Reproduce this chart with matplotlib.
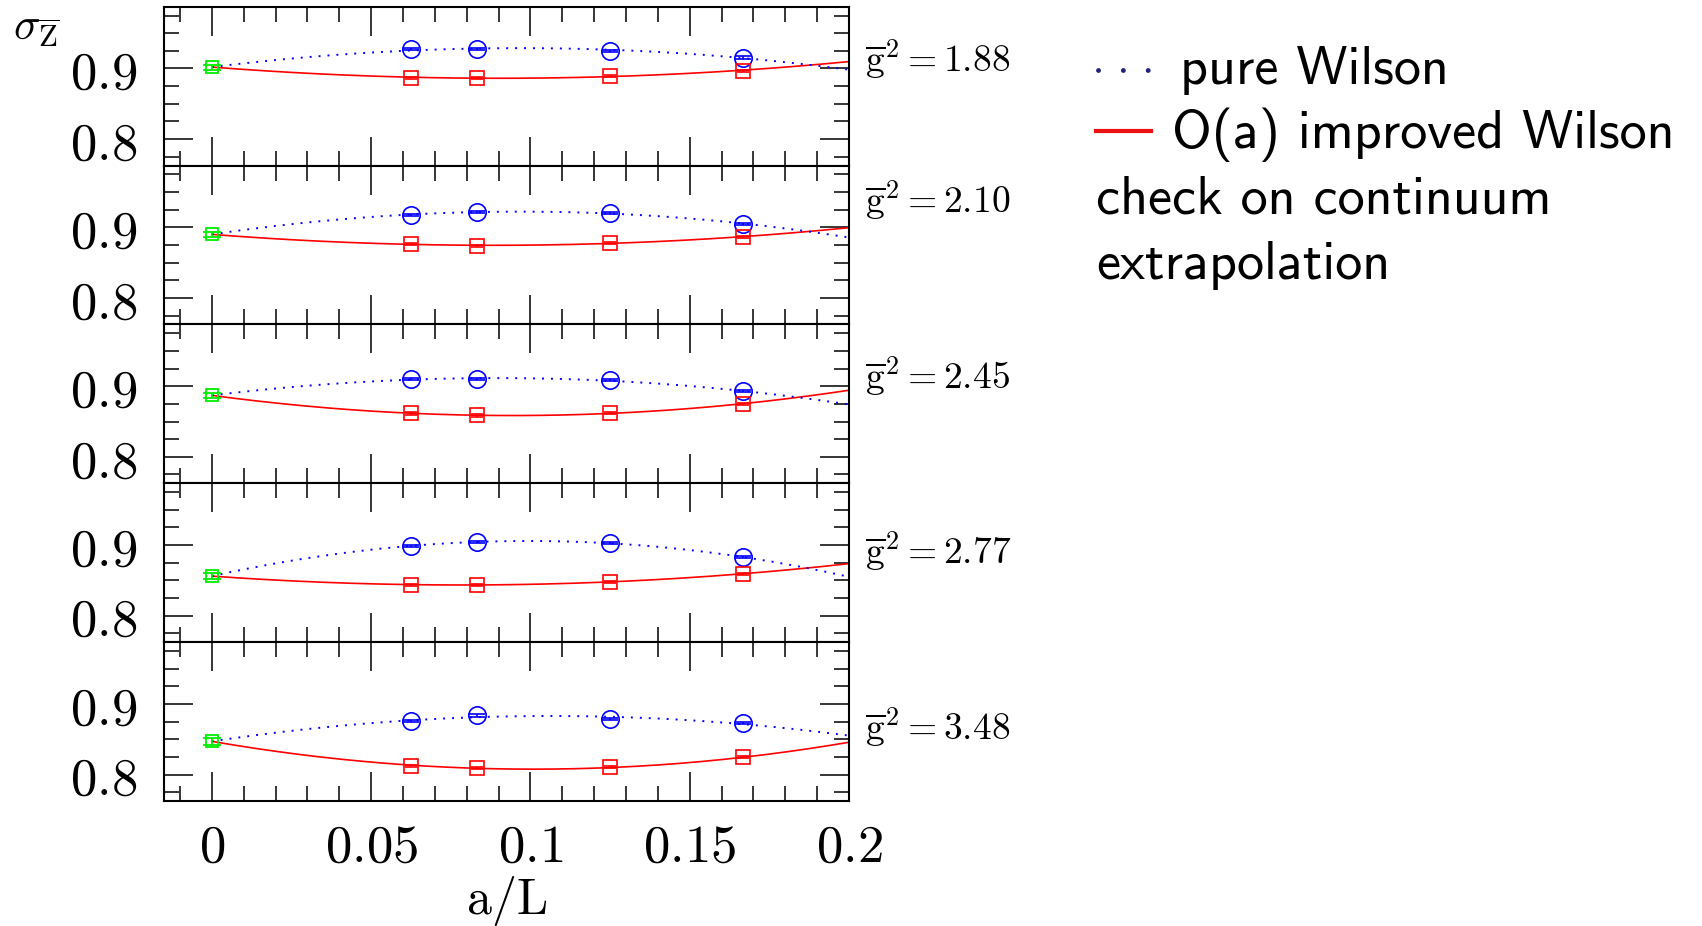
import numpy as np
import matplotlib.pyplot as plt
from matplotlib.lines import Line2D
from matplotlib.ticker import MultipleLocator, FixedLocator

plt.rcParams['mathtext.fontset'] = 'cm'

# lattice spacings a/L = 1/16, 1/12, 1/8, 1/6
a_over_L = np.array([1 / 16, 1 / 12, 1 / 8, 1 / 6])
g2_labels = ['1.88', '2.10', '2.45', '2.77', '3.48']

# continuum values (green) at a/L = 0
continuum = [0.902, 0.890, 0.887, 0.856, 0.847]
continuum_err = [0.0035, 0.0035, 0.0035, 0.004, 0.0045]

# pure Wilson (blue circles), one row per coupling
wilson = [
    [0.927, 0.928, 0.925, 0.9155],
    [0.9174, 0.9222, 0.9198, 0.9053],
    [0.9106, 0.9097, 0.9082, 0.8932],
    [0.8986, 0.9048, 0.9024, 0.8831],
    [0.8763, 0.8840, 0.8787, 0.8725],
]
wilson_err = [
    [0.0015, 0.0015, 0.0015, 0.0015],
    [0.0015, 0.0015, 0.0015, 0.0015],
    [0.0015, 0.0015, 0.0015, 0.002],
    [0.0015, 0.0015, 0.0015, 0.002],
    [0.0015, 0.002, 0.002, 0.0015],
]

# O(a) improved Wilson (red squares)
improved = [
    [0.8864, 0.8864, 0.8898, 0.8970],
    [0.8763, 0.8734, 0.8783, 0.8865],
    [0.8614, 0.8585, 0.8623, 0.8749],
    [0.8440, 0.8435, 0.8478, 0.8594],
    [0.8121, 0.8097, 0.8101, 0.8242],
]
improved_err = [
    [0.0015, 0.0015, 0.0015, 0.0015],
    [0.0015, 0.0015, 0.0015, 0.0015],
    [0.0015, 0.0015, 0.0015, 0.0015],
    [0.0015, 0.0015, 0.0015, 0.0015],
    [0.0015, 0.0015, 0.0015, 0.0015],
]

# vertical position of the g^2 labels (axes fraction) in each panel
label_pos = [0.595, 0.702, 0.60, 0.493, 0.385]


def constrained_quadratic(x, y, y0):
    """fit y = y0 + c1*x + c2*x^2 with the intercept held at y0"""
    A = np.column_stack([x, x ** 2])
    coef, *_ = np.linalg.lstsq(A, np.asarray(y) - y0, rcond=None)
    return coef


W, H = 1702, 926
fig = plt.figure(figsize=(W / 100, H / 100), dpi=100)
left, right = 164 / W, 849 / W
top, bottom = 1 - 6.7 / H, 1 - 801 / H
panel_h = (top - bottom) / 5

xs = np.linspace(0, 0.2, 300)
axes = []
for i in range(5):
    ax = fig.add_axes([left, top - (i + 1) * panel_h, right - left, panel_h])
    axes.append(ax)

    y0 = continuum[i]
    c_red = constrained_quadratic(a_over_L, improved[i], y0)
    c_blue = constrained_quadratic(a_over_L, wilson[i], y0)
    ax.plot(xs, y0 + c_red[0] * xs + c_red[1] * xs ** 2, color='#ff0000', lw=1.2)
    ax.plot(xs, y0 + c_blue[0] * xs + c_blue[1] * xs ** 2, color='#0000ff',
            lw=1.4, ls=(0, (1, 3.6)))

    ax.errorbar(a_over_L, wilson[i], yerr=wilson_err[i], fmt='o', ms=12.5,
                mfc='none', mec='#0000ff', ecolor='#0000ff', mew=1.2,
                capsize=6, capthick=1.2, elinewidth=1.2)
    ax.errorbar(a_over_L, improved[i], yerr=improved_err[i], fmt='s', ms=9.5,
                mfc='none', mec='#ff0000', ecolor='#ff0000', mew=1.2,
                capsize=4.6, capthick=1.5, elinewidth=1.2)
    ax.errorbar([0], [continuum[i]], yerr=[continuum_err[i]], fmt='s', ms=9,
                mfc='none', mec='#00ee00', ecolor='#00ee00', mew=1.3,
                capsize=6.3, capthick=1.3, elinewidth=1.3)

    ax.set_xlim(-0.015, 0.2)
    ax.set_ylim(0.7625, 0.9875)
    ax.xaxis.set_major_locator(MultipleLocator(0.05))
    ax.xaxis.set_minor_locator(MultipleLocator(0.01))
    ax.yaxis.set_major_locator(FixedLocator([0.8, 0.9]))
    ax.yaxis.set_minor_locator(MultipleLocator(0.025))
    ax.tick_params(which='both', direction='in', top=True, right=True,
                   color='black')
    ax.tick_params(which='major', length=21, width=1.1)
    ax.tick_params(which='minor', length=11, width=1.1)
    ax.tick_params(axis='y', which='major', labelsize=38, pad=19)
    ax.set_yticklabels([r'$0.8$', r'$0.9$'])
    for s in ax.spines.values():
        s.set_linewidth(1.5)

    ax.text(1.024, label_pos[i], r'$\overline{\mathrm{g}}^{2}=' + g2_labels[i] + '$',
            transform=ax.transAxes, fontsize=27, va='baseline', ha='left')

    if i < 4:
        ax.tick_params(axis='x', labelbottom=False)
    else:
        ax.set_xticks([0, 0.05, 0.1, 0.15, 0.2])
        ax.set_xticklabels([r'$0$', r'$0.05$', r'$0.1$', r'$0.15$', r'$0.2$'])
        ax.tick_params(axis='x', which='major', labelsize=38, pad=14)

fig.text((left + right) / 2, 1 - 901 / H, r'$\mathrm{a/L}$', fontsize=36,
         ha='center', va='center')
fig.text(13 / W, 1 - 40 / H, r'$\sigma_{\overline{\mathrm{Z}}}$', fontsize=32,
         ha='left', va='baseline')

# legend drawn by hand to the right of the panels
def fy(px):
    return 1 - px / H

fig.add_artist(Line2D([1098 / W, 1153 / W], [fy(70), fy(70)], transform=fig.transFigure,
                      color='#22227a', lw=3.5, ls=(0, (0.01, 5.1)),
                      dash_capstyle='round'))
fig.add_artist(Line2D([1096 / W, 1151 / W], [fy(131), fy(131)], transform=fig.transFigure,
                      color='#ee1111', lw=3.0))
legend_font = dict(family='cmss10', fontsize=39, va='baseline', ha='left')
fig.text(1180 / W, fy(84), 'pure Wilson', **legend_font)
fig.text(1172 / W, fy(148), 'O(a) improved Wilson', **legend_font)
fig.text(1096 / W, fy(214), 'check on continuum', **legend_font)
fig.text(1096 / W, fy(279), 'extrapolation', **legend_font)

fig.savefig('out.png', dpi=100)
